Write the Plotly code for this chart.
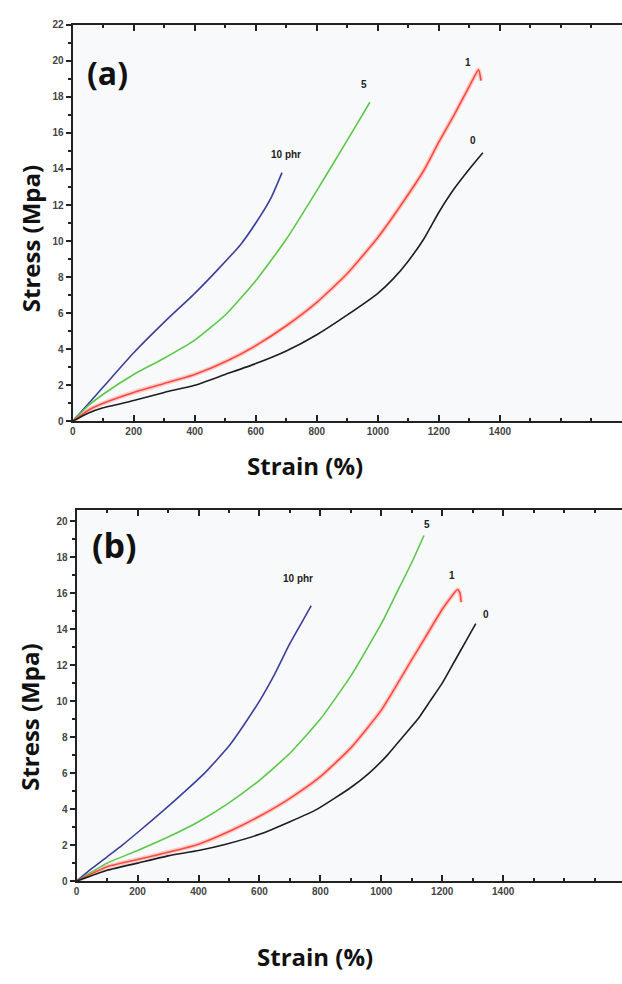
import plotly.graph_objects as go

W, H = 622, 984

# ---------------- data ----------------
series_names = ["10 phr", "5", "1", "0"]
series_colors = ["#3b3f9c", "#5cc84a", "#ff4b3e", "#1e1e1e"]

# panel (a)
a_blue_x = [0, 50, 100, 200, 300, 400, 480, 550, 600, 650, 686]
a_blue_y = [0, 0.95, 1.9, 3.8, 5.5, 7.1, 8.5, 9.8, 11.0, 12.4, 13.8]
a_green_x = [0, 50, 100, 200, 300, 400, 500, 600, 700, 800, 900, 974]
a_green_y = [0, 0.85, 1.5, 2.6, 3.5, 4.5, 5.9, 7.8, 10.1, 12.8, 15.6, 17.7]
a_red_x = [0, 50, 100, 200, 300, 400, 500, 600, 700, 800, 900, 1000, 1100, 1150, 1200, 1250, 1300, 1330, 1338]
a_red_y = [0, 0.6, 1.0, 1.6, 2.1, 2.6, 3.3, 4.2, 5.3, 6.6, 8.2, 10.2, 12.6, 13.9, 15.5, 17.0, 18.6, 19.5, 18.9]
a_black_x = [0, 50, 100, 200, 300, 400, 500, 600, 700, 800, 900, 1000, 1050, 1100, 1150, 1200, 1250, 1300, 1344]
a_black_y = [0, 0.45, 0.75, 1.15, 1.6, 2.0, 2.6, 3.2, 3.9, 4.8, 5.9, 7.1, 7.9, 8.9, 10.1, 11.6, 12.9, 14.0, 14.9]

# panel (b)
b_blue_x = [0, 50, 100, 150, 200, 290, 350, 420, 500, 550, 600, 650, 700, 740, 770]
b_blue_y = [0, 0.7, 1.35, 2.0, 2.7, 4.0, 4.9, 6.0, 7.5, 8.7, 10.0, 11.5, 13.2, 14.4, 15.3]
b_green_x = [0, 100, 200, 300, 400, 500, 600, 700, 800, 900, 1000, 1050, 1100, 1140]
b_green_y = [0, 1.0, 1.7, 2.45, 3.3, 4.35, 5.6, 7.1, 9.0, 11.4, 14.3, 16.0, 17.7, 19.2]
b_red_x = [0, 100, 200, 300, 400, 500, 600, 700, 800, 900, 1000, 1100, 1150, 1200, 1230, 1250, 1258, 1262]
b_red_y = [0, 0.8, 1.2, 1.6, 2.05, 2.75, 3.6, 4.6, 5.8, 7.4, 9.5, 12.3, 13.7, 15.1, 15.8, 16.2, 16.0, 15.5]
b_black_x = [0, 100, 200, 300, 400, 490, 600, 700, 790, 900, 960, 1020, 1070, 1120, 1160, 1200, 1240, 1280, 1310]
b_black_y = [0, 0.6, 1.0, 1.4, 1.7, 2.05, 2.6, 3.3, 4.0, 5.2, 6.0, 7.0, 8.0, 9.0, 10.0, 11.0, 12.2, 13.4, 14.3]

# curve label positions (data coords)
a_label_x = [700, 955, 1295, 1312]
a_label_y = [14.8, 18.7, 19.9, 15.6]
b_label_x = [728, 1150, 1232, 1342]
b_label_y = [16.8, 19.8, 17.0, 14.8]

x_tick_vals = [0, 200, 400, 600, 800, 1000, 1200, 1400]
a_y_ticks = list(range(0, 23, 2))
b_y_ticks = list(range(0, 21, 2))

# ---------------- figure ----------------
fig = go.Figure()

panels = [
    ("x", "y", [(a_blue_x, a_blue_y), (a_green_x, a_green_y), (a_red_x, a_red_y), (a_black_x, a_black_y)]),
    ("x2", "y2", [(b_blue_x, b_blue_y), (b_green_x, b_green_y), (b_red_x, b_red_y), (b_black_x, b_black_y)]),
]
for xa, ya, curves in panels:
    # soft halo under the red curve, as in the scanned figure
    rx, ry = curves[2]
    fig.add_trace(go.Scatter(x=rx, y=ry, mode="lines", xaxis=xa, yaxis=ya, hoverinfo="skip",
                             line=dict(color="rgba(255,90,80,0.28)", width=4.5, shape="spline", smoothing=0.5),
                             showlegend=False))
    for (xs, ys), name, col in zip(curves, series_names, series_colors):
        fig.add_trace(go.Scatter(x=xs, y=ys, mode="lines", name=name, xaxis=xa, yaxis=ya,
                                 line=dict(color=col, width=1.6, shape="spline", smoothing=0.5),
                                 showlegend=False))

def px_x(p):
    return p / W

def px_y(p):
    return 1 - p / H

tick_font = dict(family="Liberation Sans Narrow, Arial Narrow, Liberation Sans, Arial", size=10,
                 color="#444444", weight="bold")
axis_common = dict(showgrid=False, zeroline=False, showline=True, linecolor="#222222", linewidth=2,
                   tickfont=tick_font, tickcolor="#222222")

fig.update_layout(
    width=W, height=H, margin=dict(l=0, r=0, t=0, b=0),
    paper_bgcolor="white", plot_bgcolor="#f8f9fb",
    xaxis=dict(domain=[px_x(70), 1], range=[0, 1800], anchor="y", tickvals=x_tick_vals,
               ticks="inside", ticklen=6, tickwidth=1.5, mirror="ticks",
               minor=dict(dtick=100, ticks="inside", ticklen=3, tickcolor="#222222"), **axis_common),
    yaxis=dict(domain=[px_y(421), px_y(20)], range=[0, 22], anchor="x", tickvals=a_y_ticks,
               ticks="outside", ticklen=5, tickwidth=1.5,
               minor=dict(dtick=1, ticks="outside", ticklen=3, tickcolor="#222222"), **axis_common),
    xaxis2=dict(domain=[px_x(74), 1], range=[0, 1790], anchor="y2", tickvals=x_tick_vals,
                ticks="inside", ticklen=6, tickwidth=1.5, mirror="ticks",
                minor=dict(dtick=100, ticks="inside", ticklen=3, tickcolor="#222222"), **axis_common),
    yaxis2=dict(domain=[px_y(886), px_y(511)], range=[0, 20.6], anchor="x2", tickvals=b_y_ticks,
                ticks="outside", ticklen=5, tickwidth=1.5,
                minor=dict(dtick=1, ticks="outside", ticklen=3, tickcolor="#222222"), **axis_common),
)

title_font = dict(family="Open Sans", size=24, color="#111111")
ann = []
# axis titles
for xc, yc in [(303, 466), (314, 962)]:
    ann.append(dict(text="<b>Strain (%)</b>", x=px_x(xc), y=px_y(yc), xref="paper", yref="paper",
                    showarrow=False, font=title_font, xanchor="center", yanchor="middle"))
for xc, yc in [(27, 236), (27, 720)]:
    ann.append(dict(text="<b>Stress (Mpa)</b>", x=px_x(xc), y=px_y(yc), xref="paper", yref="paper",
                    showarrow=False, font=title_font, textangle=-90, xanchor="center", yanchor="middle"))
# panel letters
ann.append(dict(text="<b>(a)</b>", x=px_x(105), y=px_y(68), xref="paper", yref="paper", showarrow=False,
                font=dict(family="Open Sans", size=32, color="#111111"), xanchor="center", yanchor="middle"))
ann.append(dict(text="<b>(b)</b>", x=px_x(112), y=px_y(546), xref="paper", yref="paper", showarrow=False,
                font=dict(family="Open Sans", size=34, color="#111111"), xanchor="center", yanchor="middle"))
# curve labels
lab_font = dict(family="Liberation Sans, Arial", size=10, color="#222222")
for lx, ly, t in zip(a_label_x, a_label_y, series_names):
    ann.append(dict(text="<b>%s</b>" % t, x=lx, y=ly, xref="x", yref="y", showarrow=False, font=lab_font))
for lx, ly, t in zip(b_label_x, b_label_y, series_names):
    ann.append(dict(text="<b>%s</b>" % t, x=lx, y=ly, xref="x2", yref="y2", showarrow=False, font=lab_font))
fig.update_layout(annotations=ann)

fig.write_html("out.html")
